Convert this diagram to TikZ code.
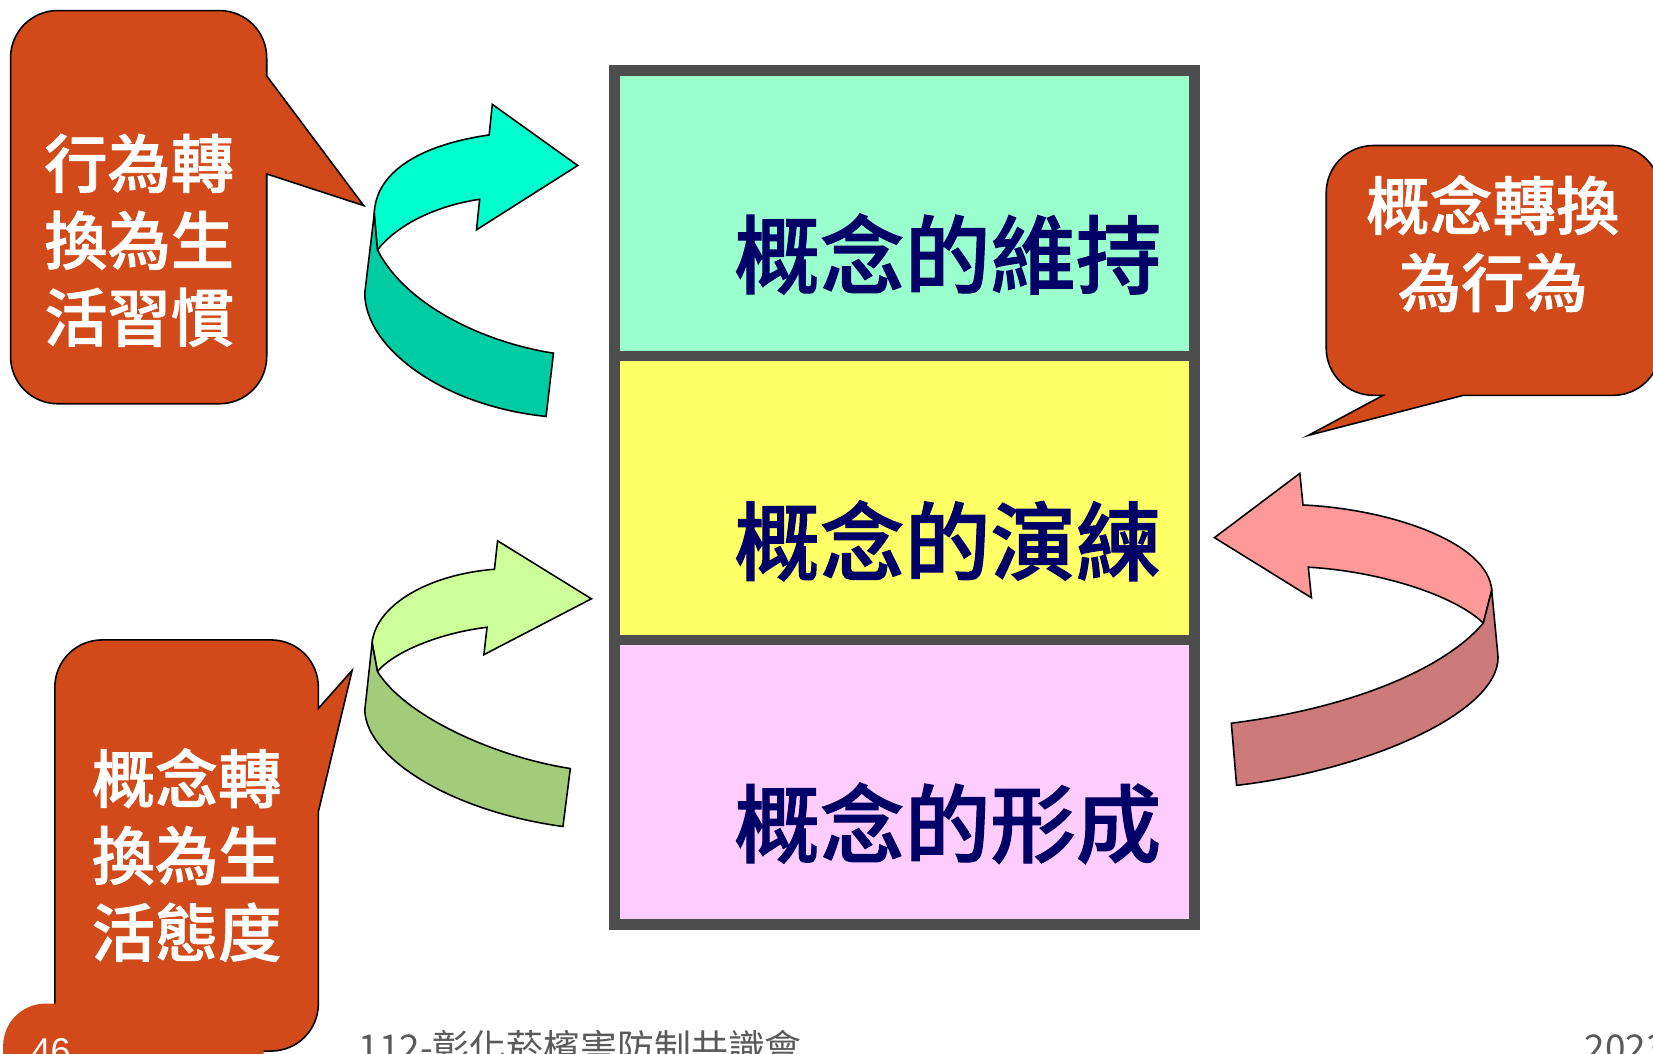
\documentclass[tikz,border=0pt]{standalone}
\usepackage{fontspec}
\newfontfamily\cjk{Noto Sans CJK TC}
\newfontfamily\cjkheavy[FakeBold=1.2]{Noto Sans CJK TC Medium}
\newfontfamily\latf{Liberation Sans}
\definecolor{callorange}{HTML}{D24A19}
\definecolor{boxgray}{HTML}{4D4D4D}
\definecolor{navytext}{HTML}{000066}
\definecolor{fillA}{HTML}{99FFCC}
\definecolor{fillB}{HTML}{FFFF66}
\definecolor{fillC}{HTML}{FFCCFF}
\definecolor{cyanback}{HTML}{00FFCC}
\definecolor{cyanfront}{HTML}{00CCA3}
\definecolor{greenback}{HTML}{CCFF99}
\definecolor{greenfront}{HTML}{A3CC7A}
\definecolor{pinkback}{HTML}{FF9999}
\definecolor{pinkfront}{HTML}{CC7A7A}
\definecolor{footgray}{HTML}{5A5A5A}
\begin{document}
\begin{tikzpicture}[x=1pt,y=-1pt,
  secbox/.style={draw=boxgray, line width=10pt, minimum width=550pt, inner sep=0pt, outer sep=0pt},
  maintext/.style={font={\cjkheavy\fontsize{81}{90}\selectfont}, text=navytext, inner sep=0pt},
  calltext/.style={font={\cjkheavy\fontsize{60}{73}\selectfont}, text=white, align=center, inner sep=0pt},
  callout/.style={fill=callorange, draw=black, line width=1.5pt, line join=miter},
  ribbon/.style={draw=black, line width=1.5pt, line join=miter},
  foottext/.style={font={\cjk\fontsize{35}{40}\selectfont}, text=footgray, inner sep=0pt}]
\useasboundingbox (0,0) rectangle (1568,999);
\clip (0,0) rectangle (1568,999);
\fill[white] (0,0) rectangle (1568,999);

% main stacked box
\node[secbox, fill=fillA, minimum height=270.5pt] (secA) at (858,202.25) {};
\node[secbox, fill=fillB, minimum height=269.5pt] (secB) at (858,472.25) {};
\node[secbox, fill=fillC, minimum height=270pt] (secC) at (858,742) {};
\node[maintext] (tA) at (899,241) {概念的維持};
\node[maintext] (tB) at (899,513) {概念的演練};
\node[maintext] (tC) at (899,781) {概念的形成};

% top-left callout
\draw[callout] (55,10) -- (208,10) .. controls (233,10) and (253,30) .. (253,55) -- (253,72) -- (345,195) -- (253,165)
  -- (253,338) .. controls (253,363) and (233,383) .. (208,383) -- (55,383) .. controls (30,383) and (10,363) .. (10,338)
  -- (10,55) .. controls (10,30) and (30,10) .. (55,10) -- cycle;
\node[calltext] (cTL) at (132,228) {行為轉\\換為生\\活習慣};

% right callout
\draw[callout] (1303,138) -- (1530,138) .. controls (1555,138) and (1575,158) .. (1575,183) -- (1575,330)
  .. controls (1575,355) and (1555,375) .. (1530,375) -- (1388,375) -- (1241,413) -- (1312,375) -- (1303,375)
  .. controls (1278,375) and (1258,355) .. (1258,330) -- (1258,183) .. controls (1258,158) and (1278,138) .. (1303,138) -- cycle;
\node[calltext] (cR) at (1416,231) {概念轉換\\為行為};

% bottom-left callout
\draw[callout] (97,607) -- (257,607) .. controls (282,607) and (302,627) .. (302,652) -- (302,672) -- (334,636) -- (302,770)
  -- (302,952) .. controls (302,977) and (282,997) .. (257,997) -- (97,997) .. controls (72,997) and (52,977) .. (52,952)
  -- (52,652) .. controls (52,627) and (72,607) .. (97,607) -- cycle;
\node[calltext] (cBL) at (177,811) {概念轉\\換為生\\活態度};

% slide number tab
\fill[callorange] (43,952) -- (250,952) -- (250,1040) -- (3,1040) -- (3,992) .. controls (3,970) and (21,952) .. (43,952) -- cycle;
\node[font={\latf\fontsize{34}{40}\selectfont}, text=white, anchor=base west, inner sep=0pt] (pnum) at (29,1009) {46};

% cyan arrow
\draw[ribbon, fill=cyanback] (355,203) .. controls (356,165) and (395,138) .. (464,128) -- (467,99) -- (548,157) -- (452,218) -- (455,189)
  .. controls (415,195) and (378,212) .. (358,237) -- cycle;
\draw[ribbon, fill=cyanfront] (355,203) -- (346,278) .. controls (346,330) and (420,385) .. (518,395) -- (525,335)
  .. controls (460,325) and (385,290) .. (358,237) -- cycle;

% green arrow
\draw[ribbon, fill=greenback] (353,610) .. controls (356,575) and (405,545) .. (469,540) -- (472,513) -- (561,568) -- (459,621) -- (462,595)
  .. controls (420,600) and (375,617) .. (358,637) -- cycle;
\draw[ribbon, fill=greenfront] (353,610) -- (346,674) .. controls (348,720) and (430,770) .. (534,784) -- (541,729)
  .. controls (470,718) and (385,680) .. (358,637) -- cycle;

% pink arrow
\draw[ribbon, fill=pinkback] (1236,479) .. controls (1320,483) and (1412,515) .. (1415,560) -- (1407,591)
  .. controls (1380,565) and (1310,542) .. (1241,538) -- (1244,567) -- (1152,510) -- (1233,449) -- cycle;
\draw[ribbon, fill=pinkfront] (1415,560) -- (1421,623) .. controls (1422,675) and (1300,730) .. (1173,745) -- (1168,686)
  .. controls (1280,672) and (1370,635) .. (1407,591) -- cycle;

% footer
\node[foottext, anchor=base west] (foot) at (340,1007) {112-彰化菸檳害防制共識會};
\node[foottext, anchor=base west] (year) at (1503,1007) {2023};
\end{tikzpicture}
\end{document}
